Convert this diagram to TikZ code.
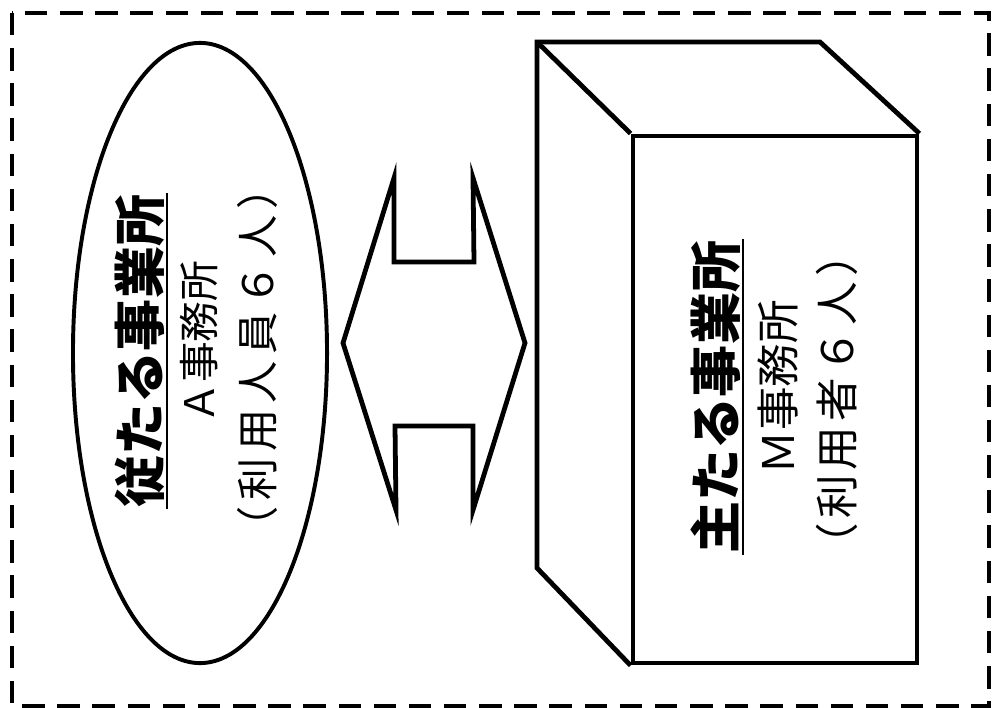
\documentclass[tikz,border=0pt]{standalone}
\usepackage{xcolor}
\usepackage{fontspec}
\usetikzlibrary{shapes.geometric}
\newfontfamily\jpfont{Noto Sans CJK JP}
\newfontfamily\jpwide[LetterSpace=15]{Noto Sans CJK JP}
\newfontfamily\jpmid[LetterSpace=11]{Noto Sans CJK JP}
\begin{document}
\begin{tikzpicture}[x=0.025cm,y=-0.025cm,
    thickline/.style={draw=black,line width=3.4pt,line join=miter},
    vtext/.style={rotate=90,inner sep=1pt,anchor=center},
    headtext/.style={vtext,font=\jpfont\bfseries\fontsize{37}{40}\selectfont},
    subtext/.style={vtext,font=\jpfont\fontsize{29}{32}\selectfont}]
\useasboundingbox (0,0) rectangle (992,708);
% dashed frame
\draw[black,line width=3.5pt,dash pattern=on 16pt off 9pt] (12,13) rectangle (989,706);
% subordinate office
\node[
    ellipse,
    draw=black,
    line width=2.8pt,
    minimum width=6.35cm,
    minimum height=15.5cm
] (subofc) at (200,353) {};
\node[headtext] (subhead) at (140,351) {従たる事業所};
\draw[line width=1.5pt] (subhead.south west) -- (subhead.south east);
\node[subtext] (subname) at (199,342) {Ａ事務所};
\node[subtext,font=\jpwide\fontsize{30}{33}\selectfont] (subusers) at (257,358) {（利用人員６人）};
% main office, front face
\node[
    draw=black,
    line width=3.4pt,
    minimum width=7.1cm,
    minimum height=13.175cm
] (mainofc) at (775,399.5) {};
\coordinate (backtl) at (537,42);
\coordinate (backtr) at (820,42);
\coordinate (backbl) at (537,568);
\draw[thickline] (mainofc.south west) -- (backbl) -- (backtl) -- (backtr) -- (mainofc.north east);
\draw[thickline] (backtl) -- (mainofc.north west);
\node[headtext] (mainhead) at (716,397) {主たる事業所};
\draw[line width=1.5pt] (mainhead.south west) -- (mainhead.south east);
\node[subtext,font=\jpfont\fontsize{31}{34}\selectfont] (mainname) at (778,387) {Ｍ事務所};
\node[subtext,font=\jpmid\fontsize{31}{34}\selectfont] (mainusers) at (837,400) {（利用者６人）};
% double arrow between the offices
\draw[thickline]
    (394,178) -- (394,262) -- (474,262) -- (473,178) -- (525,343) -- (473,510)
    -- (473,426) -- (395,426) -- (396,510) -- (343,343) -- cycle;
\end{tikzpicture}
\end{document}
